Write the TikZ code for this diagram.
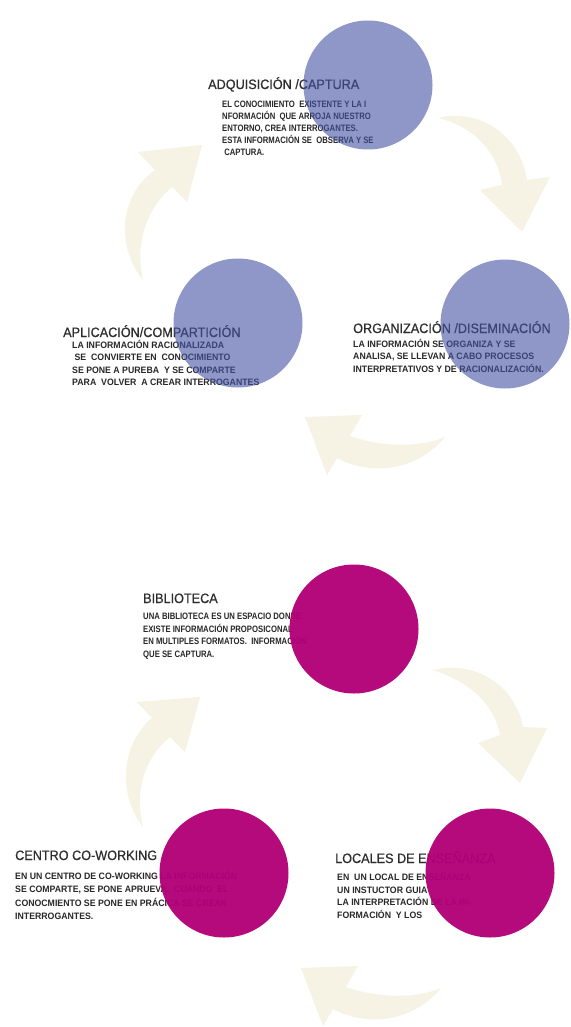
\documentclass[tikz,border=0pt]{standalone}
\usepackage{fontspec}
\setmainfont{Liberation Sans}
\newfontfamily\ttlfont{Liberation Sans}[FakeStretch=0.93,FakeBold=0.6]
\newfontfamily\bodyN{Liberation Sans}[FakeStretch=0.94]
\newfontfamily\bodyC{Liberation Sans}[FakeStretch=0.83]
\definecolor{bluefill}{RGB}{67,83,163}
\definecolor{magfill}{RGB}{178,0,119}
\definecolor{arrowbeige}{RGB}{246,242,228}
\definecolor{titlegray}{RGB}{45,45,45}
\definecolor{bodygray}{RGB}{40,40,40}
\newcommand\firstln{\rule{0pt}{10pt}}
\begin{document}
\begin{tikzpicture}[x=1pt,y=-1pt,
  cycarrow/.style={fill=arrowbeige,draw=none},
  bluedot/.style={circle,minimum size=129pt,inner sep=0pt,fill=bluefill,fill opacity=0.6},
  magdot/.style={circle,minimum size=129pt,inner sep=0pt,fill=magfill,fill opacity=0.96},
  ttl/.style={anchor=base west,inner sep=0pt,text=titlegray,font=\ttlfont\fontsize{13.6}{15}\selectfont},
  bdy/.style={anchor=north west,inner sep=0pt,align=left,text=bodygray}]
\fill[white] (0,0) rectangle (570,1027);
\path[use as bounding box] (0,0) rectangle (570,1027);

% ---------- cycle arrows, upper cycle ----------
\fill[cycarrow] (438,118) .. controls (480,108) and (520,135) .. (527,180)
  -- (550,177) -- (522,232) -- (480,190) -- (502,185)
  .. controls (498,150) and (470,125) .. (438,118) -- cycle;
\fill[cycarrow] (445,437) .. controls (420,448) and (380,447) .. (350,436)
  -- (362,415) -- (305,417) -- (327,475) -- (337,458)
  .. controls (375,478) and (420,468) .. (445,437) -- cycle;
\fill[cycarrow] (143,280) .. controls (115,245) and (120,195) .. (155,170)
  -- (138,152) -- (202,145) -- (187,202) -- (172,187)
  .. controls (145,210) and (135,245) .. (143,280) -- cycle;

% ---------- cycle arrows, lower cycle ----------
\fill[cycarrow] (433,670) .. controls (475,660) and (515,685) .. (523,727)
  -- (547,728) -- (520,783) -- (478,743) -- (500,735)
  .. controls (495,705) and (470,682) .. (433,670) -- cycle;
\begin{scope}[shift={(-4,551)}]
\fill[cycarrow] (445,437) .. controls (420,448) and (380,447) .. (350,436)
  -- (362,415) -- (305,417) -- (327,475) -- (337,458)
  .. controls (375,478) and (420,468) .. (445,437) -- cycle;
\end{scope}
\fill[cycarrow] (143,827) .. controls (118,795) and (120,745) .. (152,718)
  -- (137,702) -- (200,697) -- (185,752) -- (170,737)
  .. controls (142,760) and (135,795) .. (143,827) -- cycle;

% ---------- texts, upper cycle ----------
\node[ttl] (t1) at (208,89) {ADQUISICIÓN /CAPTURA};
\node[bdy,font=\bodyC\bfseries\fontsize{9.3}{12.1}\selectfont] (b1) at (222,97)
  {\firstln EL CONOCIMIENTO~~EXISTENTE Y LA I\\
   NFORMACIÓN~~QUE ARROJA NUESTRO\\
   ENTORNO, CREA INTERROGANTES.\\
   ESTA INFORMACIÓN SE~~OBSERVA Y SE\\
   ~CAPTURA.};
\node[ttl] (t2) at (63,337) {APLICACIÓN/COMPARTICIÓN};
\node[bdy,font=\bodyN\bfseries\fontsize{9.3}{12.4}\selectfont] (b2) at (72,338)
  {\firstln LA INFORMACIÓN RACIONALIZADA\\
   ~SE~~CONVIERTE EN~~CONOCIMIENTO\\
   SE PONE A PUREBA~~Y SE COMPARTE\\
   PARA~~VOLVER~~A CREAR INTERROGANTES};
\node[ttl] (t3) at (353,333) {ORGANIZACIÓN /DISEMINACIÓN};
\node[bdy,font=\bodyN\bfseries\fontsize{9.3}{12.5}\selectfont] (b3) at (353,337)
  {\firstln LA INFORMACIÓN SE ORGANIZA Y SE\\
   ANALISA, SE LLEVAN A CABO PROCESOS\\
   INTERPRETATIVOS Y DE RACIONALIZACIÓN.};

% ---------- texts, lower cycle ----------
\node[ttl] (t4) at (143,603) {BIBLIOTECA};
\node[bdy,font=\bodyC\bfseries\fontsize{9.3}{12.8}\selectfont] (b4) at (143,609)
  {\firstln UNA BIBLIOTECA ES UN ESPACIO DONDE\\
   EXISTE INFORMACIÓN PROPOSICONAL\\
   EN MULTIPLES FORMATOS.~~INFORMACIÓN\\
   QUE SE CAPTURA.};
\node[ttl] (t5) at (15,860) {CENTRO CO-WORKING};
\node[bdy,font=\bodyN\bfseries\fontsize{9.3}{13.4}\selectfont] (b5) at (15,869)
  {\firstln EN UN CENTRO DE CO-WORKING LA INFORMACIÓN\\
   SE COMPARTE, SE PONE APRUEVA.~~CUANDO~~EL\\
   CONOCMIENTO SE PONE EN PRÁCICA SE CREAN\\
   INTERROGANTES.};
\node[ttl] (t6) at (335,863) {LOCALES DE ENSEÑANZA};
\node[bdy,font=\bodyN\bfseries\fontsize{9.3}{12.8}\selectfont] (b6) at (337,870)
  {\firstln EN~~UN LOCAL DE ENSEÑANZA\\
   UN INSTUCTOR GUIA\\
   LA INTERPRETACIÓN DE LA IN-\\
   FORMACIÓN~~Y LOS};

% ---------- circles ----------
\node[bluedot] (c1) at (368,85) {};
\node[bluedot] (c2) at (238,323) {};
\node[bluedot] (c3) at (505,324) {};
\node[magdot] (c4) at (354,629) {};
\node[magdot] (c5) at (224,873) {};
\node[magdot] (c6) at (490,873) {};
\end{tikzpicture}
\end{document}
